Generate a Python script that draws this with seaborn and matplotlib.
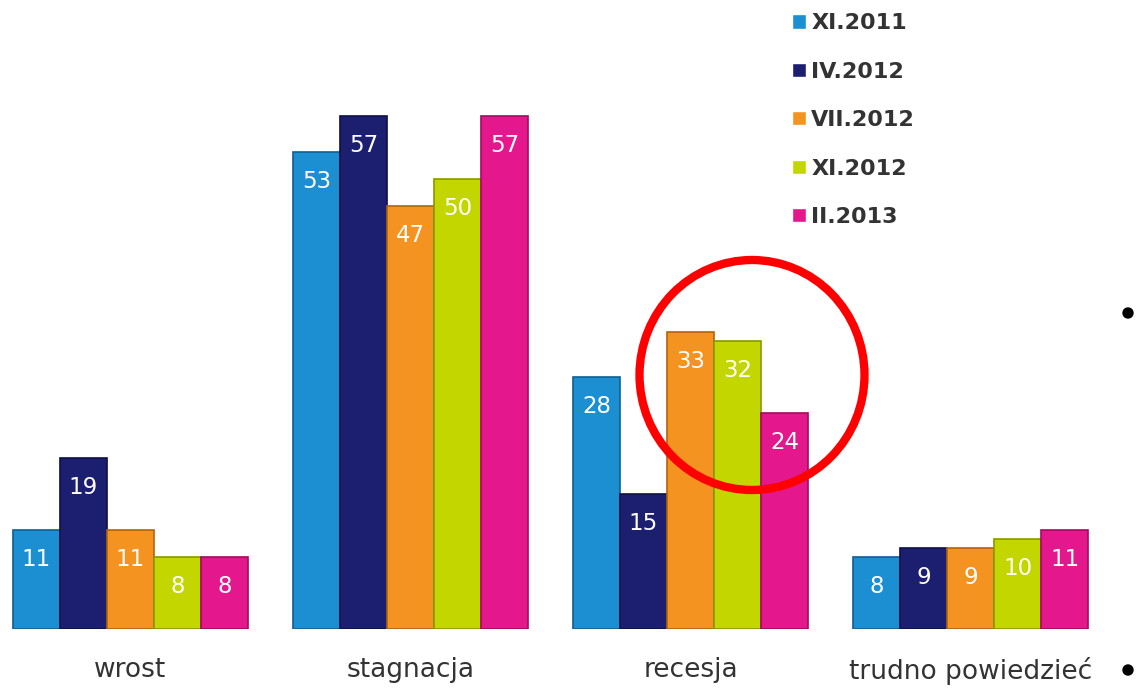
import matplotlib
matplotlib.use("Agg")
import matplotlib.pyplot as plt
import seaborn as sns
import pandas as pd
from matplotlib.patches import Ellipse

categories = ["wrost", "stagnacja", "recesja", "trudno powiedzieć"]
series = ["XI.2011", "IV.2012", "VII.2012", "XI.2012", "II.2013"]
values_xi2011 = [11, 53, 28, 8]
values_iv2012 = [19, 57, 15, 9]
values_vii2012 = [11, 47, 33, 9]
values_xi2012 = [8, 50, 32, 10]
values_ii2013 = [8, 57, 24, 11]
colors = ["#1b8fd2", "#1c1f70", "#f4931f", "#c3d600", "#e5178c"]
edges = ["#0d5f92", "#0e1045", "#b0650f", "#8a9800", "#a00d60"]

all_vals = [values_xi2011, values_iv2012, values_vii2012, values_xi2012, values_ii2013]
rows = []
for s, vals in zip(series, all_vals):
    for c, v in zip(categories, vals):
        rows.append({"cat": c, "series": s, "val": v})
df = pd.DataFrame(rows)

sns.set_theme(style="white")
plt.rcParams['font.family'] = ['DejaVu Sans']

fig = plt.figure(figsize=(11.4, 6.89), dpi=100)
ax = fig.add_axes([0, 60 / 689, 1, 629 / 689])

sns.barplot(data=df, x="cat", y="val", hue="series", order=categories,
            hue_order=series, palette=colors, width=0.84, gap=0,
            saturation=1, ax=ax, legend=True)

for i, cont in enumerate(ax.containers):
    for bar in cont:
        bar.set_edgecolor(edges[i])
        bar.set_linewidth(1.2)
        h = bar.get_height()
        ax.annotate(f"{int(round(h))}", (bar.get_x() + bar.get_width() / 2, h),
                    xytext=(0, -21), textcoords="offset points",
                    ha="center", va="center", color="white", fontsize=16.5)

ax.set_xlim((0 - 130.5) / 280, (1140 - 130.5) / 280)
ax.set_ylim(0, 629 / 9.0)
for sp in ax.spines.values():
    sp.set_visible(False)
ax.set_yticks([])
ax.set_xlabel("")
ax.set_ylabel("")
ax.tick_params(axis="x", length=0, pad=20, labelsize=19, labelcolor="#333333")

handles, labels = ax.get_legend_handles_labels()
leg = ax.legend(handles, labels, loc="upper left",
                bbox_to_anchor=(779 / 1140, 1.0), bbox_transform=fig.transFigure,
                frameon=False, prop={"weight": "bold", "size": 16},
                handlelength=0.6, handleheight=0.6, handletextpad=0.25,
                labelspacing=1.28, borderaxespad=0.2)
for t in leg.get_texts():
    t.set_color("#333333")

ell = Ellipse((752 / 1140, 1 - 375 / 689), 225 / 1140, 230 / 689,
              transform=fig.transFigure, fill=False, edgecolor="#ff0000",
              linewidth=6, zorder=10)
fig.add_artist(ell)

for yy in [313, 670]:
    fig.add_artist(Ellipse((1128 / 1140, 1 - yy / 689), 10 / 1140, 10 / 689,
                           transform=fig.transFigure, color="black"))

fig.savefig("out.png", dpi=100)
